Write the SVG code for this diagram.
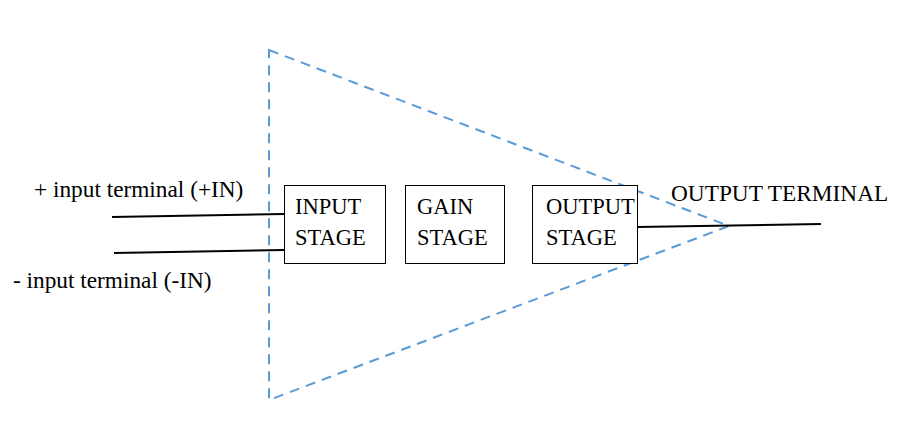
<svg xmlns="http://www.w3.org/2000/svg" width="899" height="427" viewBox="0 0 899 427">
<style>
text{font-family:"Liberation Serif","Times New Roman",serif;font-size:22.5px;fill:#000}
.lbl{font-size:23.3px}
.box{fill:#fff;stroke:#000;stroke-width:1}
.wire{stroke:#000;stroke-width:2;fill:none}
.tri{fill:none;stroke:#5b9bd5;stroke-width:2;stroke-dasharray:10 7}
</style>
<rect width="899" height="427" fill="#fff"/>
<g id="amplifier">
<polygon class="tri" points="269,50 729,226 269,400"/>
</g>
<g id="connectors">
<line class="wire" x1="112" y1="217" x2="284" y2="214"/>
<line class="wire" x1="114" y1="253" x2="284" y2="250"/>
<line class="wire" x1="637" y1="227" x2="821" y2="224"/>
</g>
<g id="input-stage">
<rect class="box" x="284.5" y="185.5" width="101" height="78"/>
<text x="295" y="214">INPUT</text>
<text x="295" y="245">STAGE</text>
</g>
<g id="gain-stage">
<rect class="box" x="405.5" y="185.5" width="99" height="78"/>
<text x="417" y="214">GAIN</text>
<text x="417" y="245">STAGE</text>
</g>
<g id="output-stage">
<rect class="box" x="532.5" y="185.5" width="105" height="78"/>
<text x="546" y="214">OUTPUT</text>
<text x="546" y="245">STAGE</text>
</g>
<g id="labels">
<text class="lbl" x="34" y="197">+ input terminal (+IN)</text>
<text class="lbl" x="13" y="288">- input terminal (-IN)</text>
<text class="lbl" x="671" y="201">OUTPUT TERMINAL</text>
</g>
</svg>
